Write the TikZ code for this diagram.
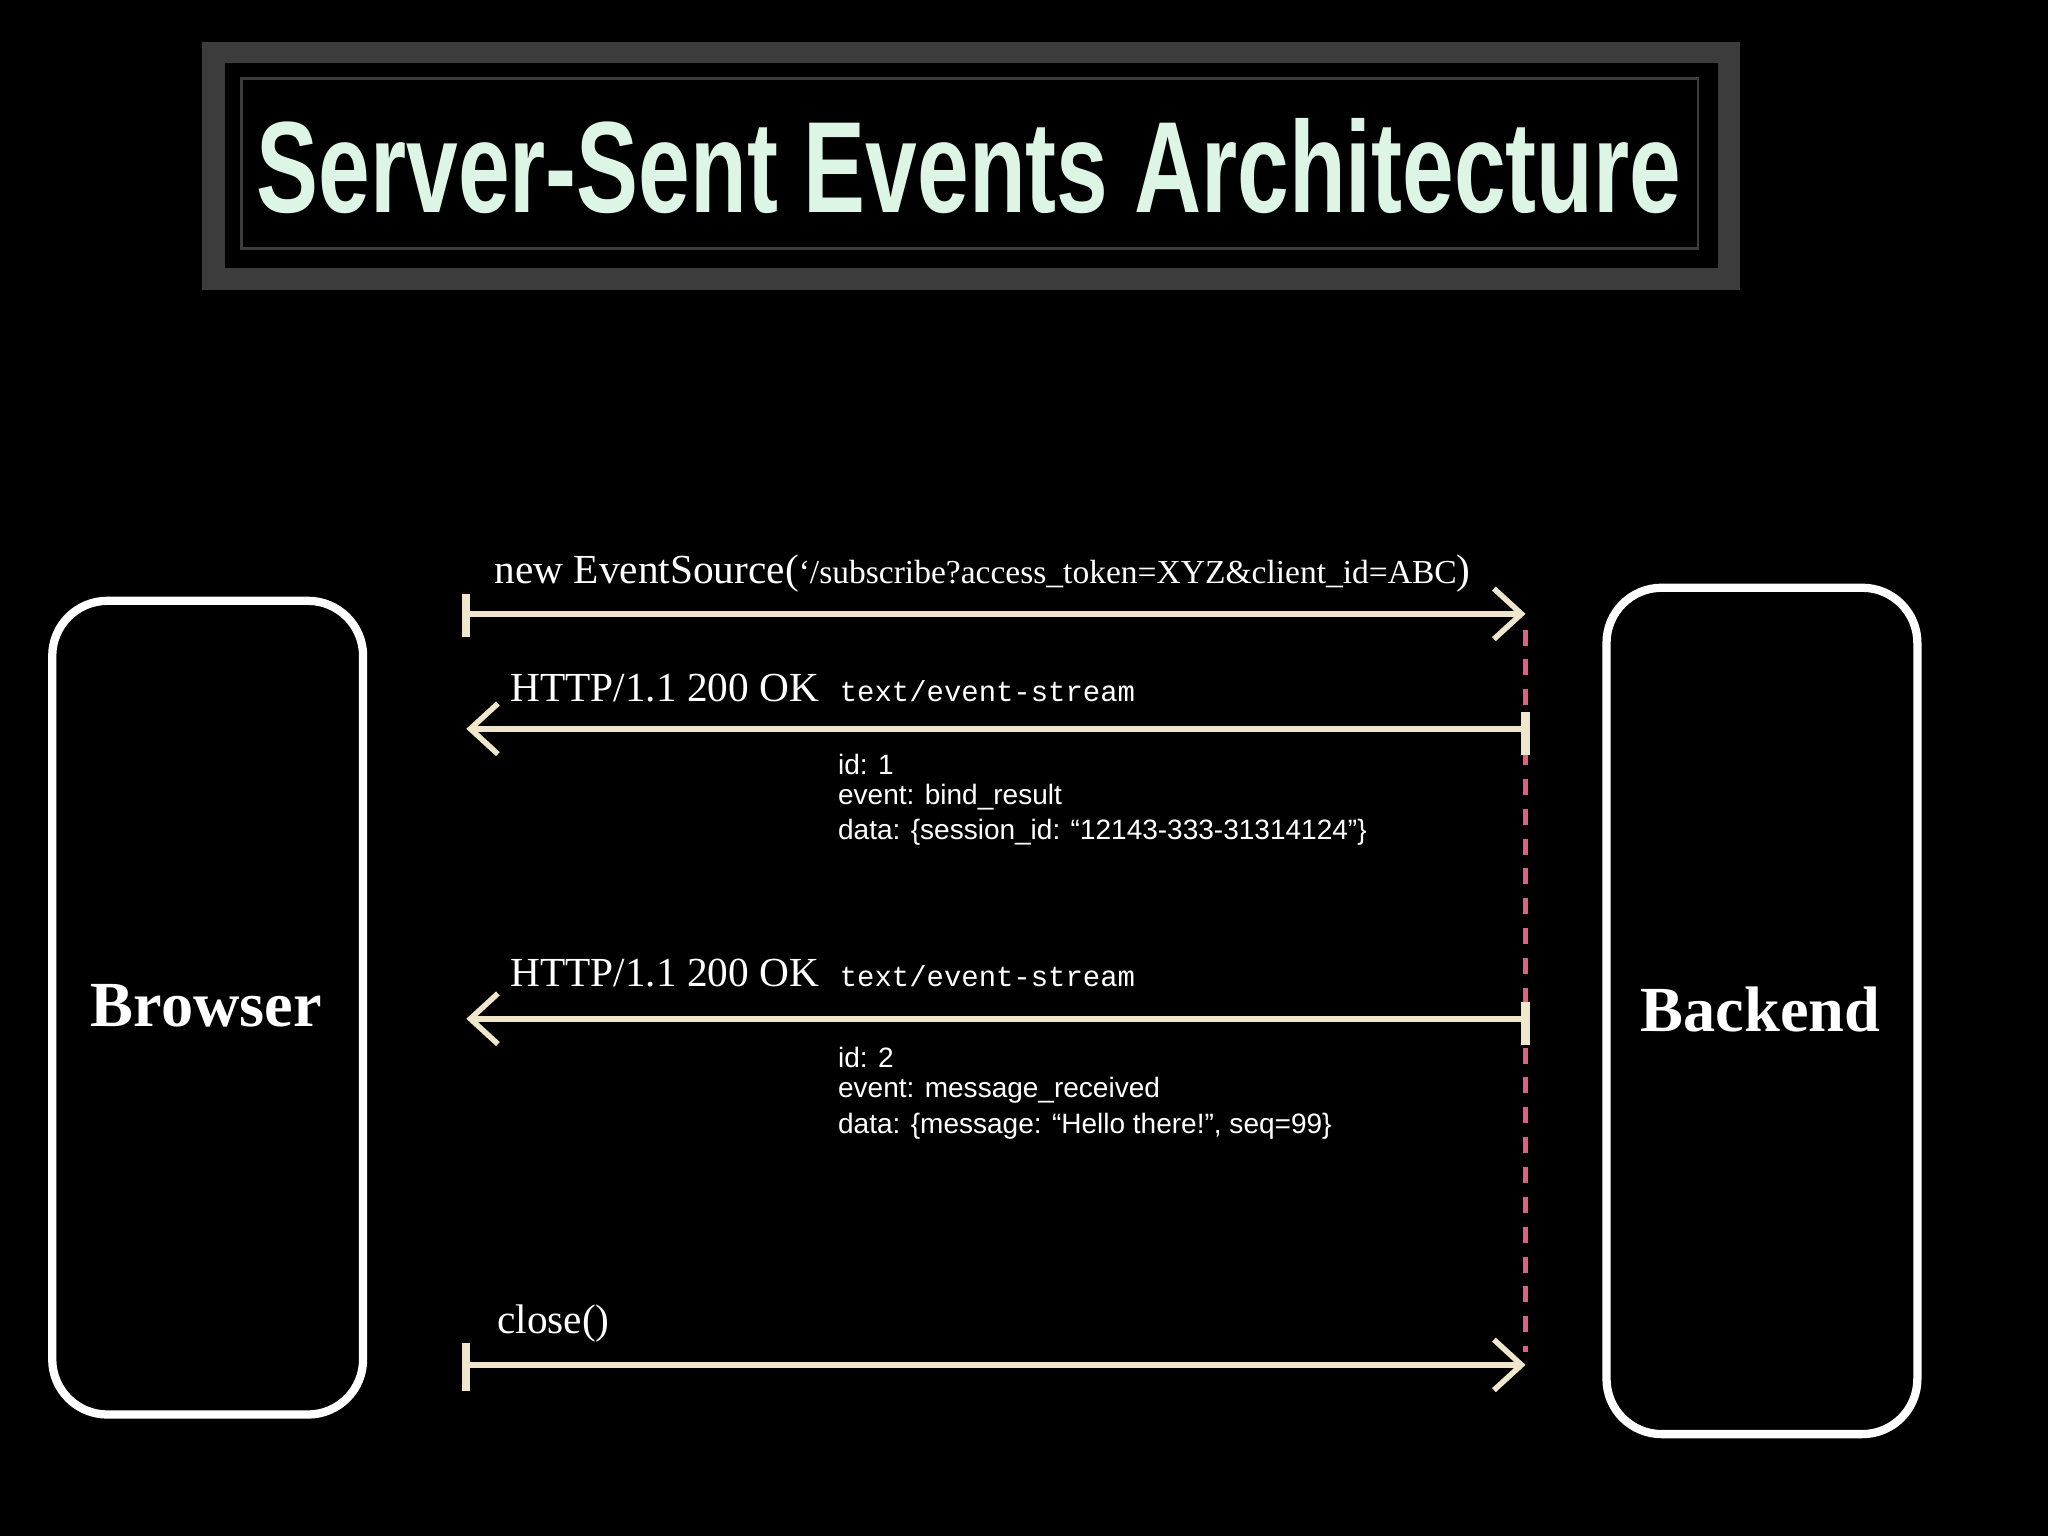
\documentclass[tikz,border=0pt]{standalone}
\usepackage{fontspec}
\setmainfont{Liberation Serif}
\setsansfont{Liberation Sans}
\setmonofont{Liberation Mono}
\usetikzlibrary{arrows.meta}
\definecolor{cream}{HTML}{EFE6CC}
\definecolor{mint}{HTML}{DDF5E4}
\definecolor{pinkd}{HTML}{E0607F}
\definecolor{frame}{HTML}{3C3C3C}
\tikzset{
  pbox/.style={draw=white,line width=1.8pt,rounded corners=12pt},
  msg/.style={draw=cream,line width=1.2pt,-{Straight Barb[length=6pt,width=11pt,line width=1.2pt]}},
  lbl/.style={anchor=west,text=white,font=\fontsize{9}{10}\selectfont,inner sep=0pt},
  body/.style={anchor=west,text=white,font=\sffamily\fontsize{6.1}{7}\selectfont,inner sep=0pt},
  tick/.style={draw=cream,line width=1.8pt}
}
\begin{document}
\begin{tikzpicture}[x=0.01cm,y=-0.01cm]
\fill[black] (0,0) rectangle (1568,1176);
\useasboundingbox (0,0) rectangle (1568,1176);
% title
\fill[frame] (155,32) rectangle (1332,222);
\fill[black] (172,48) rectangle (1315,205);
\draw[frame,line width=0.6pt] (185,60) rectangle (1300,190);
\node[text=mint,inner sep=0pt] (title) at (742,127) {\resizebox{10.9cm}{0.72cm}{\sffamily\bfseries Server-Sent Events Architecture}};
% boxes
\draw[pbox] (40,460) rectangle (278,1083);
\node[text=white,font=\bfseries\fontsize{14}{16}\selectfont] (browser) at (158,770) {Browser};
\draw[pbox] (1230,450) rectangle (1468,1098);
\node[text=white,font=\bfseries\fontsize{14}{16}\selectfont] (backend) at (1348,773) {Backend};
% coordinates
\coordinate (a1s) at (357,470); \coordinate (a1e) at (1168,470);
\coordinate (a2s) at (1168,558); \coordinate (a2e) at (357,558);
\coordinate (a3s) at (1168,780); \coordinate (a3e) at (357,780);
\coordinate (a4s) at (357,1045); \coordinate (a4e) at (1168,1045);
\coordinate (lt) at (1168,482); \coordinate (lb) at (1168,1035);
\draw[pinkd,line width=1.1pt,dash pattern=on 3.5pt off 3pt] (lt) -- (lb);
% arrows
\draw[msg] (a1s) -- (a1e); \draw[tick] (357,455) -- (357,488);
\draw[msg] (a2s) -- (a2e); \draw[tick] (1168,545) -- (1168,578);
\draw[msg] (a3s) -- (a3e); \draw[tick] (1168,767) -- (1168,800);
\draw[msg] (a4s) -- (a4e); \draw[tick] (357,1028) -- (357,1065);
% labels
\node[lbl] (l1) at (378,439) {new EventSource(\fontsize{7.3}{9}\selectfont`/subscribe?access\_token=XYZ\&client\_id=ABC\fontsize{9}{10}\selectfont)};
\node[lbl] (l2) at (390,527) {HTTP/1.1 200 OK \ {\ttfamily\fontsize{6.3}{8}\selectfont text/event-stream}};
\node[body] (b1) at (641,585) {id: 1};
\node[body] (b2) at (641,610) {event: bind\_result};
\node[body] (b3) at (641,637) {data: \{session\_id: “12143-333-31314124”\}};
\node[lbl] (l3) at (390,745) {HTTP/1.1 200 OK \ {\ttfamily\fontsize{6.3}{8}\selectfont text/event-stream}};
\node[body] (c1) at (641,810) {id: 2};
\node[body] (c2) at (641,835) {event: message\_received};
\node[body] (c3) at (641,862) {data: \{message: “Hello there!”, seq=99\}};
\node[lbl] (l4) at (380,1013) {close()};
\end{tikzpicture}
\end{document}
